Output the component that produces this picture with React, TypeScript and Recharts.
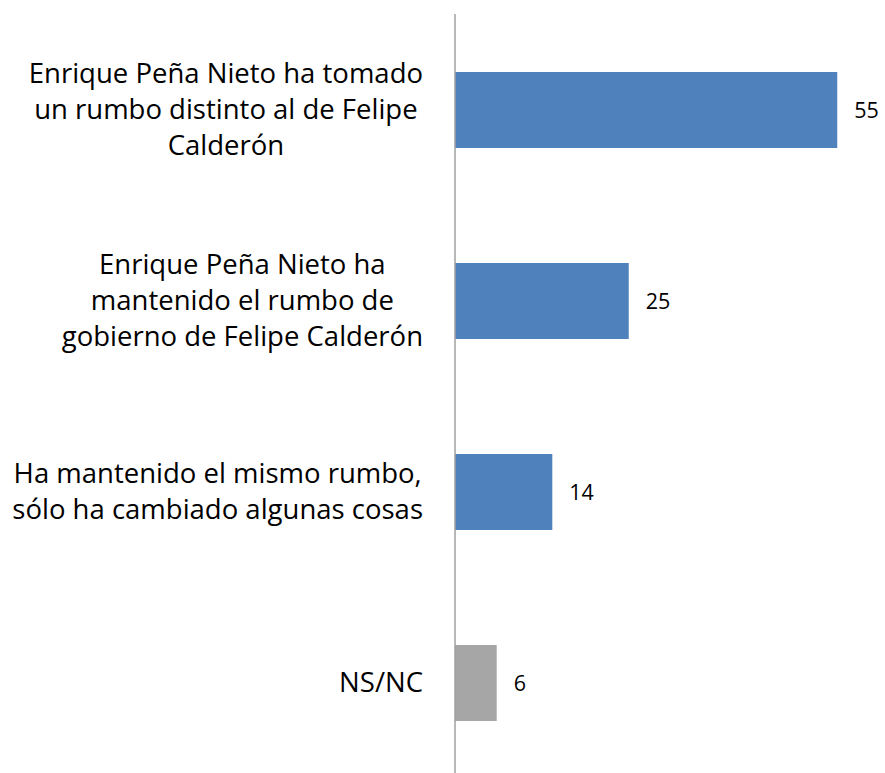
import React from 'react';
import { BarChart, Bar, XAxis, YAxis, Cell, LabelList } from 'recharts';

const categories = [
  'Enrique Peña Nieto ha tomado un rumbo distinto al de Felipe Calderón',
  'Enrique Peña Nieto ha mantenido el rumbo de gobierno de Felipe Calderón',
  'Ha mantenido el mismo rumbo, sólo ha cambiado algunas cosas',
  'NS/NC',
];
const categoryLines = [
  ['Enrique Peña Nieto ha tomado', 'un rumbo distinto al de Felipe', 'Calderón'],
  ['Enrique Peña Nieto ha', 'mantenido el rumbo de', 'gobierno de Felipe Calderón'],
  ['Ha mantenido el mismo rumbo,', 'sólo ha cambiado algunas cosas'],
  ['NS/NC'],
];
const values = [55, 25, 14, 6];
const barColors = ['#4F81BD', '#4F81BD', '#4F81BD', '#A6A6A6'];

const data = categories.map((c, i) => ({ name: c, value: values[i] }));

const FONT = '"Open Sans", sans-serif';
const LABEL_SIZE = 27.5;
const LINE_H = 36;

let ctx: CanvasRenderingContext2D | null = null;
function measure(t: string): number {
  if (!ctx) {
    const c = document.createElement('canvas');
    ctx = c.getContext('2d');
  }
  if (!ctx) return t.length * 14;
  ctx.font = `${LABEL_SIZE}px "Open Sans"`;
  return ctx.measureText(t).width;
}

const Tick = (props: any) => {
  const { x, y, payload } = props;
  const idx = categories.indexOf(payload.value);
  const lines = categoryLines[idx] || [payload.value];
  const maxW = Math.max(...lines.map(measure));
  const right = x - 24;
  const cx = right - maxW / 2;
  const n = lines.length;
  return (
    <g>
      {lines.map((l, i) => (
        <text
          key={i}
          x={cx}
          y={y + (i - (n - 1) / 2) * LINE_H + 9}
          textAnchor="middle"
          fontFamily={FONT}
          fontSize={LABEL_SIZE}
          fill="#000"
        >
          {l}
        </text>
      ))}
    </g>
  );
};

export default function App() {
  return (
    <div style={{ position: 'absolute', left: 0, top: 0, width: 885, height: 773, overflow: 'hidden', background: '#fff' }}>
      <BarChart
        width={885}
        height={778}
        data={data}
        layout="vertical"
        margin={{ top: 14, right: 13, bottom: 0, left: 0 }}
      >
        <XAxis type="number" domain={[0, 60]} hide />
        <YAxis
          type="category"
          dataKey="name"
          width={455}
          axisLine={{ stroke: '#A0A0A0', strokeWidth: 1.5 }}
          tickLine={false}
          tick={<Tick />}
          interval={0}
        />
        <Bar dataKey="value" barSize={76} isAnimationActive={false}>
          {data.map((d, i) => (
            <Cell key={i} fill={barColors[i]} />
          ))}
          <LabelList dataKey="value" position="right" offset={17} fill="#000" fontFamily={FONT} fontSize={21.5} />
        </Bar>
      </BarChart>
    </div>
  );
}
